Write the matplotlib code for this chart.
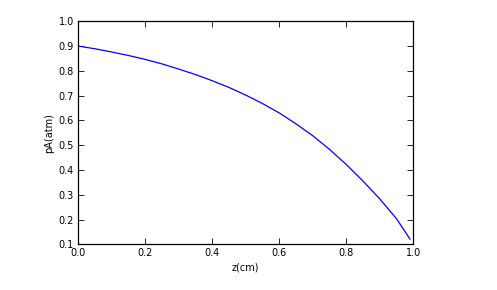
import matplotlib
matplotlib.use("Agg")
import matplotlib.pyplot as plt

z_cm = [0.00, 0.05, 0.10, 0.15, 0.20, 0.25, 0.30, 0.35, 0.40, 0.45, 0.50,
        0.55, 0.60, 0.65, 0.70, 0.75, 0.80, 0.85, 0.90, 0.95, 0.99]
pA_atm = [0.900, 0.889, 0.876, 0.862, 0.846, 0.828, 0.807, 0.785, 0.760, 0.733, 0.702,
          0.668, 0.630, 0.586, 0.538, 0.483, 0.422, 0.355, 0.283, 0.203, 0.121]

xticks = [0.0, 0.2, 0.4, 0.6, 0.8, 1.0]
yticks = [0.1, 0.2, 0.3, 0.4, 0.5, 0.6, 0.7, 0.8, 0.9, 1.0]

plt.rcParams['font.family'] = ['DejaVu Sans']
fig = plt.figure(figsize=(4.97, 2.90), dpi=100)
ax = fig.add_axes([0.1575, 0.1576, 0.8316 - 0.1575, 0.9266 - 0.1576])
ax.plot(z_cm, pA_atm, color='#0000ff', linewidth=0.9)
ax.set_xlim(0.0, 1.0)
ax.set_ylim(0.1, 1.0)
ax.set_xticks(xticks)
ax.set_yticks(yticks)
ax.set_xticklabels([f"{t:.1f}" for t in xticks])
ax.set_yticklabels([f"{t:.1f}" for t in yticks])
ax.tick_params(direction='in', top=True, right=True, length=4, width=0.6,
               labelsize=7, pad=3, colors='black')
for s in ax.spines.values():
    s.set_linewidth(0.9)
ax.set_xlabel('z(cm)', fontsize=7, labelpad=3)
ax.set_ylabel('pA(atm)', fontsize=7, labelpad=3)
fig.savefig('out.png', dpi=100)
